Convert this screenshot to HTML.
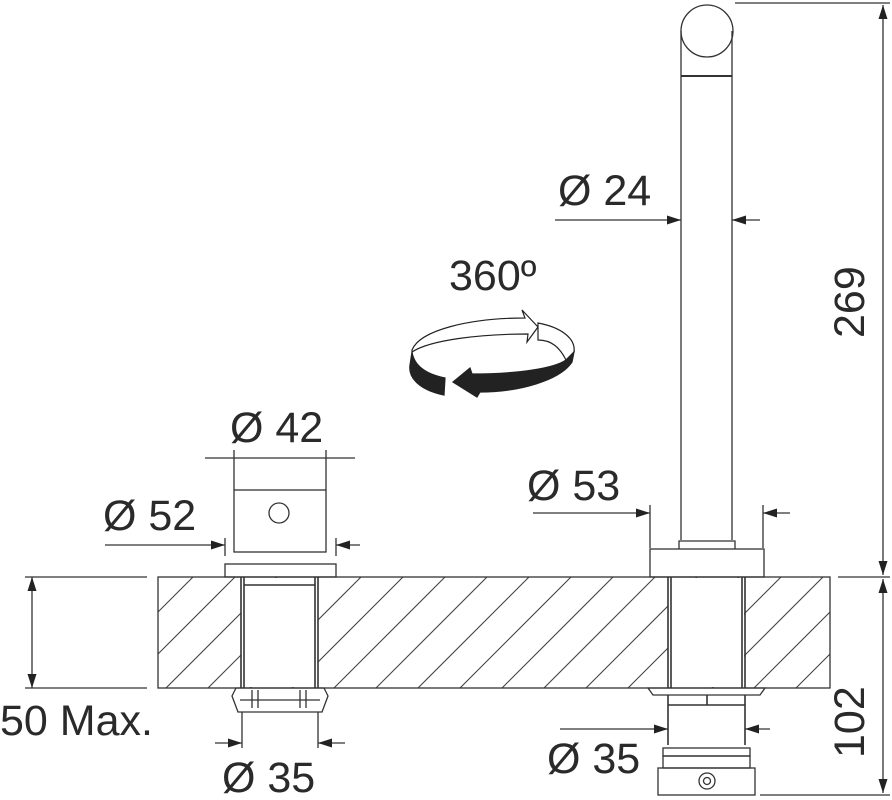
<!DOCTYPE html>
<html><head><meta charset="utf-8"><style>
html,body{margin:0;padding:0;background:#fff;}
svg{display:block}
text{font-family:"Liberation Sans",Arial,sans-serif;fill:#2a2a2a}
</style></head><body>
<svg width="892" height="800" viewBox="0 0 892 800" xmlns="http://www.w3.org/2000/svg">
<defs>
<marker id="a" viewBox="0 0 14 9" refX="14" refY="4.5" markerWidth="15" markerHeight="9" orient="auto-start-reverse" markerUnits="userSpaceOnUse"><path d="M0,0L14,4.5L0,9Z" fill="#222"/></marker>
<clipPath id="slab"><rect x="158" y="577" width="672" height="111"/></clipPath>
</defs>
<g stroke="#333" stroke-width="1.3" fill="none">
<g clip-path="url(#slab)" stroke="#444" stroke-width="1.1">
<path d="M40,688L151,577M82,688L193,577M124,688L235,577M166,688L277,577M208,688L319,577M250,688L361,577M292,688L403,577M334,688L445,577M376,688L487,577M418,688L529,577M460,688L571,577M502,688L613,577M544,688L655,577M586,688L697,577M628,688L739,577M670,688L781,577M712,688L823,577M754,688L865,577M796,688L907,577"/>
</g>
<rect x="241" y="578" width="77" height="109" fill="#fff" stroke="none"/>
<rect x="668" y="578" width="76" height="109" fill="#fff" stroke="none"/>
<rect x="158" y="577" width="672" height="111"/>
<rect x="234" y="490" width="92" height="62"/>
<circle cx="279" cy="513" r="10"/>
<rect x="225" y="564" width="111" height="13"/>
<path d="M241,577V688M244,577V688M315,577V688M318,577V688M244,585H315" stroke-width="1.6"/>
<path d="M236,688H324L328,696L322,712H238L232,696Z"/>
<path d="M252,690V708M258,690V708M300,690V708M306,690V708M240,700H320"/>
<path d="M242,712V748M318,712V748"/>
<path d="M234,490V450M326,490V450"/>
<path d="M205,458H355"/>
<path d="M105,545H225" marker-end="url(#a)"/>
<path d="M360,545H336" marker-end="url(#a)"/>
<path d="M225,538V556M336,538V556"/>
<path d="M215,743H242" marker-end="url(#a)"/>
<path d="M345,743H318" marker-end="url(#a)"/>
<path d="M25,577H147M25,688H147"/>
<path d="M32,577V688" marker-start="url(#a)" marker-end="url(#a)"/>
<circle cx="707" cy="31" r="26"/>
<path d="M681,31V540M732,31V540"/>
<path d="M681,76H732" stroke-width="2"/>
<path d="M679,549V541H735V549"/>
<rect x="650" y="549" width="114" height="28"/>
<path d="M668,577V688M671,577V688M742,577V688M745,577V688" stroke-width="1.6"/>
<path d="M648,688H765L760,695H653Z"/>
<path d="M668,695V745M745,695V745M668,705H745M707,695V705" stroke-width="1.6"/>
<rect x="663" y="748" width="87" height="8"/>
<rect x="663" y="756" width="87" height="12"/>
<rect x="658" y="768" width="97" height="27"/>
<circle cx="707" cy="781" r="8"/><circle cx="707" cy="781" r="3.5"/>
<path d="M555,220H681" marker-end="url(#a)"/>
<path d="M760,220H732" marker-end="url(#a)"/>
<path d="M533,513H650" marker-end="url(#a)"/>
<path d="M790,513H763" marker-end="url(#a)"/>
<path d="M650,505V548M763,505V548"/>
<path d="M560,729H668" marker-end="url(#a)"/>
<path d="M770,729H745" marker-end="url(#a)"/>
<path d="M735,3H890M838,577H890M760,795H890"/>
<path d="M883,5V575" marker-start="url(#a)" marker-end="url(#a)"/>
<path d="M883,579V793" marker-start="url(#a)" marker-end="url(#a)"/>
</g>
<g stroke="#222" stroke-width="1.2">
<path d="M412,350 C420,330 470,318 525,318 L522,310 L538,327 L527,342 L528,334 C480,334 430,340 412,352Z" fill="#fff"/>
<path d="M538,323 C560,327 576,338 574,352 L566,360 C560,348 552,340 538,340Z" fill="#fff"/>
<path d="M412,352 C414,365 425,374 445,378 L444,395 C420,390 408,378 410,365Z" fill="#222"/>
<path d="M574,352 L572,362 C560,380 520,392 480,392 L477,397 L453,382 L470,368 L472,374 C520,374 555,368 566,360Z" fill="#222"/>
</g>
<g font-size="43">
<text x="449" y="290">360º</text>
<text x="230" y="442">Ø 42</text>
<text x="103" y="530">Ø 52</text>
<text x="558" y="205">Ø 24</text>
<text x="527" y="500">Ø 53</text>
<text x="547" y="773">Ø 35</text>
<text x="222" y="792">Ø 35</text>
<text x="0" y="735">50 Max.</text>
<text transform="translate(864,338) rotate(-90)">269</text>
<text transform="translate(864,758) rotate(-90)">102</text>
</g>
</svg>
</body></html>
